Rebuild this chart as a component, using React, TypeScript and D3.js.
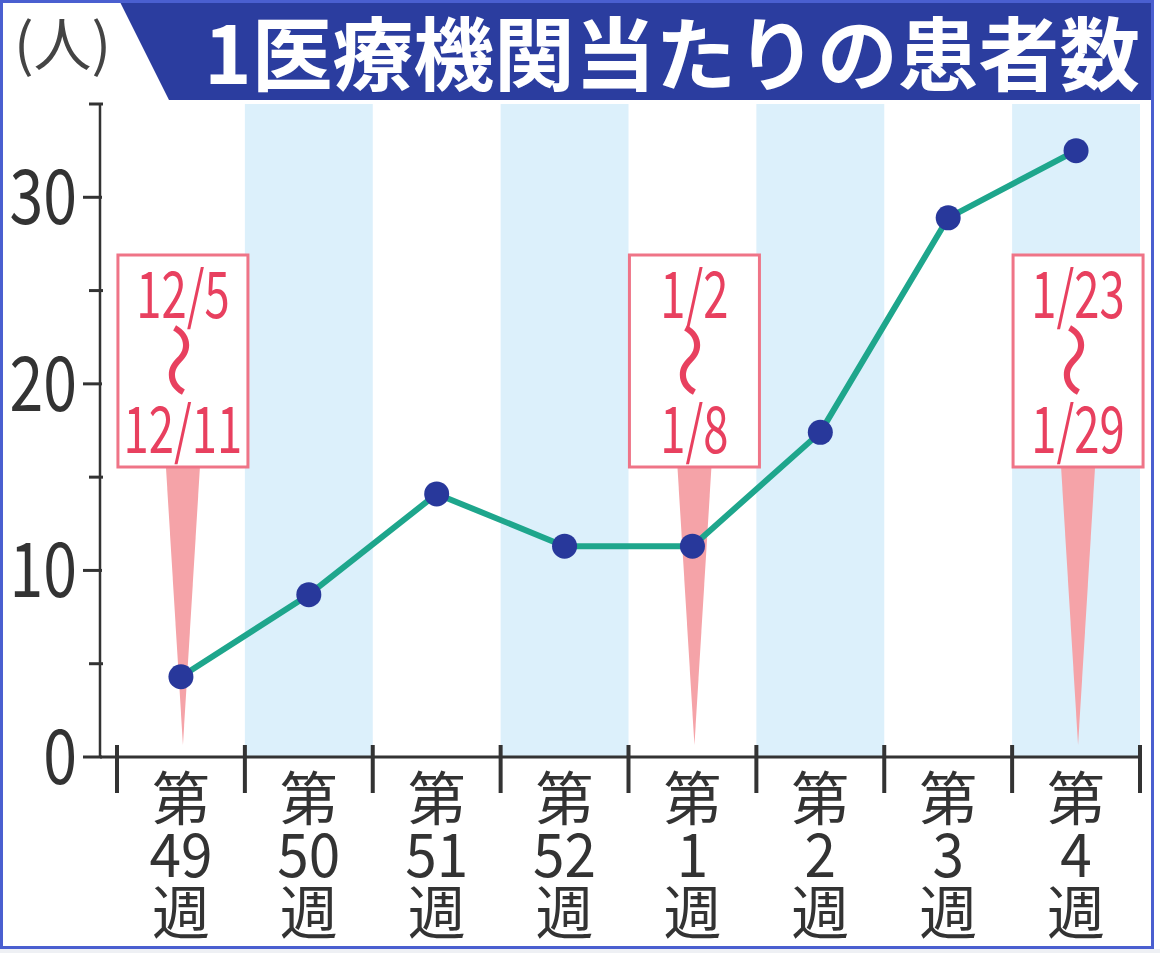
import React from "react";
import * as d3 from "d3";

const weeks = ["49", "50", "51", "52", "1", "2", "3", "4"];
const values = [4.3, 8.7, 14.1, 11.3, 11.3, 17.4, 28.9, 32.5];
const yTicksMajor = [0, 10, 20, 30];
const yTicksMinor = [5, 15, 25, 35];
const annotWeeks = ["49", "1", "4"];
const annotFrom = ["12/5", "1/2", "1/23"];
const annotTo = ["12/11", "1/8", "1/29"];
const title = "1医療機関当たりの患者数";
const unitLabel = "(人)";

const W = 1160;
const H = 953;
const JP = "'Noto Sans CJK JP', 'Noto Sans', sans-serif";

export default function App() {
  const x = d3.scaleBand<string>().domain(weeks).range([117, 1140]).padding(0);
  const y = d3.scaleLinear().domain([0, 35]).range([757, 104]);
  const cx = (w: string) => (x(w) as number) + x.bandwidth() / 2;
  const pts: [number, number][] = weeks.map((w, i) => [cx(w), y(values[i])]);
  const line = d3.line<[number, number]>().x((d) => d[0]).y((d) => d[1]);
  const boundaries = weeks.map((w) => x(w) as number).concat([1140]);

  const boxW = 130;
  const boxTop = 255;
  const boxBot = 467;

  return (
    <svg
      width={W}
      height={H}
      style={{ position: "absolute", left: 0, top: 0, background: "#ffffff" }}
    >
      <rect x={0} y={0} width={W} height={H} fill="#ffffff" />
      {/* light bands */}
      {weeks.map((w, i) =>
        i % 2 === 1 ? (
          <rect
            key={"b" + w}
            x={x(w)}
            y={104}
            width={x.bandwidth()}
            height={757 - 104}
            fill="#dcf0fb"
          />
        ) : null
      )}
      {/* title banner */}
      <path d="M119,0 L1153,0 L1153,100 L169,100 Z" fill="#2b3d9f" />
      <text
        x={204}
        y={84}
        fontFamily={JP}
        fontWeight={700}
        fontSize={80}
        fill="#ffffff"
        textLength={936}
        lengthAdjust="spacingAndGlyphs"
      >
        {title}
      </text>
      <text x={14} y={66} fontFamily={JP} fontSize={58} fill="#444444">
        {unitLabel}
      </text>

      {/* annotation pointers */}
      {annotWeeks.map((w) => (
        <path
          key={"p" + w}
          d={`M${cx(w) + 2 - 17},${boxBot} L${cx(w) + 2 + 17},${boxBot} L${cx(w) + 2},745 Z`}
          fill="#f5a3a8"
        />
      ))}
      {/* annotation boxes */}
      {annotWeeks.map((w, i) => {
        const c = cx(w) + 2;
        return (
          <g key={"a" + w}>
            <rect
              x={c - boxW / 2}
              y={boxTop}
              width={boxW}
              height={boxBot - boxTop}
              fill="#ffffff"
              stroke="#ef7487"
              strokeWidth={3}
            />
            <g transform={`translate(${c},318) scale(0.71,1)`}>
              <text textAnchor="middle" fontFamily={JP} fontSize={64} fill="#e8405f">
                {annotFrom[i]}
              </text>
            </g>
            <g transform={`translate(${c},360) rotate(90)`}>
              <text
                textAnchor="middle"
                dominantBaseline="central"
                fontFamily={JP}
                fontSize={76}
                fill="#e8405f"
              >
                〜
              </text>
            </g>
            <g transform={`translate(${c},453) scale(0.71,1)`}>
              <text textAnchor="middle" fontFamily={JP} fontSize={64} fill="#e8405f">
                {annotTo[i]}
              </text>
            </g>
          </g>
        );
      })}

      {/* y axis */}
      <line x1={100} x2={100} y1={104} y2={757} stroke="#333333" strokeWidth={2.5} />
      {yTicksMajor.map((t) => (
        <g key={"yt" + t}>
          <line x1={83} x2={102} y1={y(t)} y2={y(t)} stroke="#333333" strokeWidth={3} />
          <g transform={`translate(77,${y(t) + 27}) scale(0.8,1)`}>
            <text textAnchor="end" fontFamily={JP} fontSize={76} fill="#333333">
              {t}
            </text>
          </g>
        </g>
      ))}
      {yTicksMinor.map((t) => (
        <line
          key={"ym" + t}
          x1={89}
          x2={103}
          y1={y(t)}
          y2={y(t)}
          stroke="#333333"
          strokeWidth={3}
        />
      ))}

      {/* x axis */}
      <line x1={100} x2={1141} y1={757} y2={757} stroke="#333333" strokeWidth={3} />
      {boundaries.map((b, i) => (
        <line
          key={"xb" + i}
          x1={b}
          x2={b}
          y1={745}
          y2={793}
          stroke="#333333"
          strokeWidth={4}
        />
      ))}
      {weeks.map((w) => (
        <g key={"xl" + w} fill="#333333" fontFamily={JP}>
          <text x={cx(w)} y={820} textAnchor="middle" fontSize={58}>
            第
          </text>
          <g transform={`translate(${cx(w)},877) scale(0.93,1)`}>
            <text textAnchor="middle" fontSize={61}>
              {w}
            </text>
          </g>
          <text x={cx(w)} y={934} textAnchor="middle" fontSize={58}>
            週
          </text>
        </g>
      ))}

      {/* data line */}
      <path
        d={line(pts) || ""}
        fill="none"
        stroke="#1ea68c"
        strokeWidth={6}
        strokeLinejoin="round"
      />
      {pts.map((p, i) => (
        <circle key={"c" + i} cx={p[0]} cy={p[1]} r={12.5} fill="#28389b" />
      ))}

      {/* frame */}
      <rect
        x={1.5}
        y={1.5}
        width={1151}
        height={946}
        fill="none"
        stroke="#4a5fd0"
        strokeWidth={3}
      />
      <rect x={0} y={949} width={W} height={4} fill="#eef0f4" />
    </svg>
  );
}
